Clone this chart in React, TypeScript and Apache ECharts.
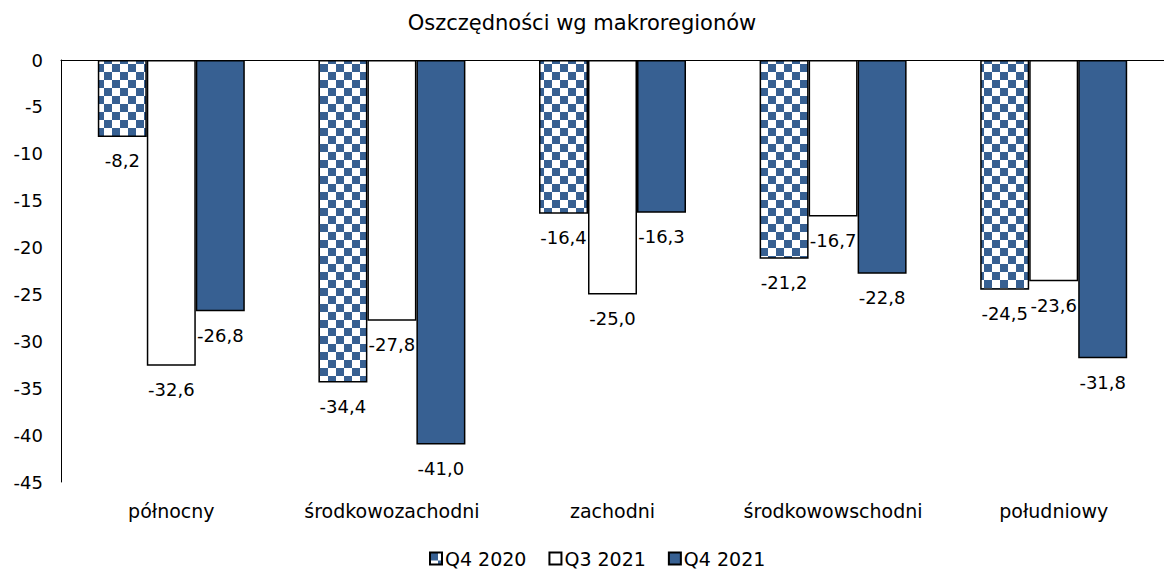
import React, { useEffect, useRef } from "react";
import * as echarts from "echarts";

const categories = ["północny", "środkowozachodni", "zachodni", "środkowowschodni", "południowy"];
const seriesNames = ["Q4 2020", "Q3 2021", "Q4 2021"];
const q4_2020 = [-8.2, -34.4, -16.4, -21.2, -24.5];
const q3_2021 = [-32.6, -27.8, -25.0, -16.7, -23.6];
const q4_2021 = [-26.8, -41.0, -16.3, -22.8, -31.8];

const BLUE = "#376092";
const FONT = "DejaVu Sans";

function makePattern(): HTMLCanvasElement {
  const c = document.createElement("canvas");
  c.width = 16;
  c.height = 16;
  const ctx = c.getContext("2d")!;
  ctx.fillStyle = "#ffffff";
  ctx.fillRect(0, 0, 16, 16);
  ctx.fillStyle = BLUE;
  ctx.fillRect(0, 0, 8, 8);
  ctx.fillRect(8, 8, 8, 8);
  return c;
}

export default function App() {
  const ref = useRef<HTMLDivElement>(null);
  useEffect(() => {
    if (!ref.current) return;
    const chart = echarts.init(ref.current, undefined, { renderer: "svg" });
    const pattern = makePattern();
    const fmt = (p: any) => Number(p.value).toFixed(1).replace(".", ",");
    const label = {
      show: true,
      position: "bottom" as const,
      distance: 15,
      color: "#000",
      fontFamily: FONT,
      fontSize: 18,
      formatter: fmt,
    };
    const colors: any[] = [{ image: pattern, repeat: "repeat" }, "#ffffff", BLUE];
    const datas = [q4_2020, q3_2021, q4_2021];
    chart.setOption({
      animation: false,
      title: {
        text: "Oszczędności wg makroregionów",
        left: "center",
        top: 7,
        textStyle: { fontFamily: FONT, fontSize: 21, fontWeight: "normal", color: "#000" },
      },
      legend: {
        bottom: 4,
        left: 424,
        icon: "rect",
        itemWidth: 12,
        itemHeight: 12,
        itemGap: 22,
        data: seriesNames,
        textStyle: { fontFamily: FONT, fontSize: 19, color: "#000", padding: [0, 0, 0, -2] },
      },
      grid: { left: 61, top: 60, height: 422, width: 1106 },
      xAxis: [
        {
          type: "category",
          data: categories,
          position: "bottom",
          axisLine: { show: false },
          axisTick: { show: false },
          axisLabel: { color: "#000", fontFamily: FONT, fontSize: 19, margin: 19, interval: 0 },
        },
        {
          type: "category",
          data: categories,
          position: "top",
          axisLine: { show: true, lineStyle: { color: "#000", width: 1 } },
          axisTick: { show: false },
          axisLabel: { show: false },
        },
      ],
      yAxis: {
        type: "value",
        min: -45,
        max: 0,
        interval: 5,
        axisLine: { show: true, lineStyle: { color: "#000", width: 1 } },
        axisTick: { show: false },
        splitLine: { show: false },
        axisLabel: { color: "#000", fontFamily: FONT, fontSize: 18, margin: 18 },
      },
      series: seriesNames.map((name, i) => ({
        name,
        type: "bar",
        data: datas[i],
        barWidth: 49,
        barGap: "0%",
        itemStyle: { color: colors[i], borderColor: "#000", borderWidth: 1.5 },
        label,
      })),
    });
    return () => chart.dispose();
  }, []);
  return (
    <div
      ref={ref}
      style={{ position: "absolute", left: 0, top: 0, width: 1164, height: 577, background: "#fff" }}
    />
  );
}
